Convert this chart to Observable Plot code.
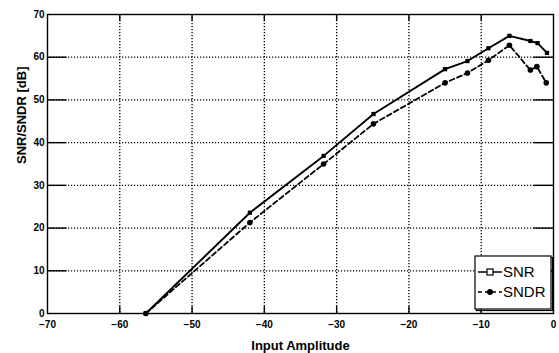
<!DOCTYPE html>
<html>
<head>
<meta charset="utf-8">
<script src="https://cdn.jsdelivr.net/npm/d3@7"></script>
<script src="https://cdn.jsdelivr.net/npm/@observablehq/plot@0.6"></script>
<style>
  html, body { margin: 0; padding: 0; background: #fff; }
  #chart { width: 559px; height: 353px; }
  svg { font-family: "Liberation Sans", Arial, sans-serif; }
</style>
</head>
<body>
<div id="chart"></div>
<script>
const snrX  = [-56.4, -42, -31.8, -24.9, -15, -11.9, -9, -6.1, -3.2, -2.2, -0.9];
const snrY  = [0, 23.6, 36.9, 46.7, 57.2, 59.1, 62.1, 65, 63.8, 63.3, 61];
const sndrX = [-56.4, -42, -31.8, -24.9, -15, -11.9, -9, -6.1, -3.2, -2.3, -1];
const sndrY = [0, 21.3, 35, 44.4, 54, 56.3, 59.3, 62.8, 57, 57.8, 54];
const xTicks = [-70, -60, -50, -40, -30, -20, -10, 0];
const yTicks = [0, 10, 20, 30, 40, 50, 60, 70];
const seriesNames = ["SNR", "SNDR"];
const xLabel = "Input Amplitude";
const yLabel = "SNR/SNDR [dB]";

const snr = snrX.map((x, i) => ({x, y: snrY[i]}));
const sndr = sndrX.map((x, i) => ({x, y: sndrY[i]}));
const innerX = xTicks.slice(1, -1);
const innerY = yTicks.slice(1, -1);

const W = 559, H = 353;
const plot = Plot.plot({
  width: W, height: H,
  marginLeft: 47, marginRight: 6, marginTop: 14, marginBottom: 40,
  style: {fontFamily: "Liberation Sans, Arial, sans-serif", fontSize: "10px", color: "#000", background: "#fff"},
  x: {domain: [-70, 0], ticks: xTicks, label: null},
  y: {domain: [0, 70], ticks: yTicks, label: null},
  marks: [
    Plot.ruleX(innerX, {stroke: "#000", strokeWidth: 1.3, strokeDasharray: "1.2,1.8"}),
    Plot.ruleY(innerY, {stroke: "#000", strokeWidth: 1.3, strokeDasharray: "1.2,1.8"}),
    Plot.line(sndr, {x: "x", y: "y", stroke: "#000", strokeWidth: 1.8, strokeDasharray: "5,3"}),
    Plot.dot(sndr, {x: "x", y: "y", r: 2.8, fill: "#000", stroke: "none"}),
    Plot.line(snr, {x: "x", y: "y", stroke: "#000", strokeWidth: 1.9}),
    Plot.dot(snr, {x: "x", y: "y", symbol: "square", r: 2.4, fill: "#000", stroke: "none"}),
    Plot.frame({stroke: "#000", strokeWidth: 1.4}),
    Plot.axisX(xTicks, {tickSize: 0, tickPadding: 7, fontWeight: "bold", fontSize: 10,
      tickFormat: d => d < 0 ? "\u2212" + Math.abs(d) : String(d)}),
    Plot.axisY(yTicks, {tickSize: 0, tickPadding: 3, fontWeight: "bold", fontSize: 10}),
    Plot.ruleX(innerX, {x: d => d, y1: 0, y2: 1.6, stroke: "#000", strokeWidth: 1.4}),
    Plot.ruleX(innerX, {x: d => d, y1: 68.4, y2: 70, stroke: "#000", strokeWidth: 1.4}),
    Plot.ruleY(innerY, {y: d => d, x1: -70, x2: -67.3, stroke: "#000", strokeWidth: 1.4}),
    Plot.ruleY(innerY, {y: d => d, x1: -2.7, x2: 0, stroke: "#000", strokeWidth: 1.4}),
    Plot.text([xLabel], {frameAnchor: "bottom", dy: 36, fontSize: 13, fontWeight: "bold"}),
    Plot.text([yLabel], {frameAnchor: "left", dx: -26, rotate: -90, fontSize: 13, fontWeight: "bold"})
  ]
});
document.getElementById("chart").appendChild(plot);

// legend drawn inside the plot area, bottom right
const svg = d3.select(plot);
const g = svg.append("g").attr("transform", "translate(475,256)").attr("text-anchor", "start");
g.append("rect").attr("x", 1.5).attr("y", 1.5).attr("width", 76).attr("height", 53)
  .attr("fill", "none").attr("stroke", "#000").attr("stroke-width", 1.2);
g.append("rect").attr("x", 0).attr("y", 0).attr("width", 76).attr("height", 53)
  .attr("fill", "#fff").attr("stroke", "#000").attr("stroke-width", 1.2);
const items = [
  {name: seriesNames[0], dash: null, sym: "square"},
  {name: seriesNames[1], dash: "4,3", sym: "circle"}
];
items.forEach((it, i) => {
  const yy = 16 + i * 20;
  g.append("line").attr("x1", 3).attr("x2", 27).attr("y1", yy).attr("y2", yy)
    .attr("stroke", "#000").attr("stroke-width", 1.5).attr("stroke-dasharray", it.dash);
  if (it.sym === "square") {
    g.append("rect").attr("x", 12).attr("y", yy - 3).attr("width", 6).attr("height", 6)
      .attr("fill", "#fff").attr("stroke", "#000").attr("stroke-width", 1.2);
  } else {
    g.append("circle").attr("cx", 15).attr("cy", yy).attr("r", 3).attr("fill", "#000");
  }
  g.append("text").attr("x", 28).attr("y", yy).attr("dy", "0.36em")
    .attr("text-anchor", "start")
    .attr("font-size", 15).attr("fill", "#000").text(it.name);
});
</script>
</body>
</html>
